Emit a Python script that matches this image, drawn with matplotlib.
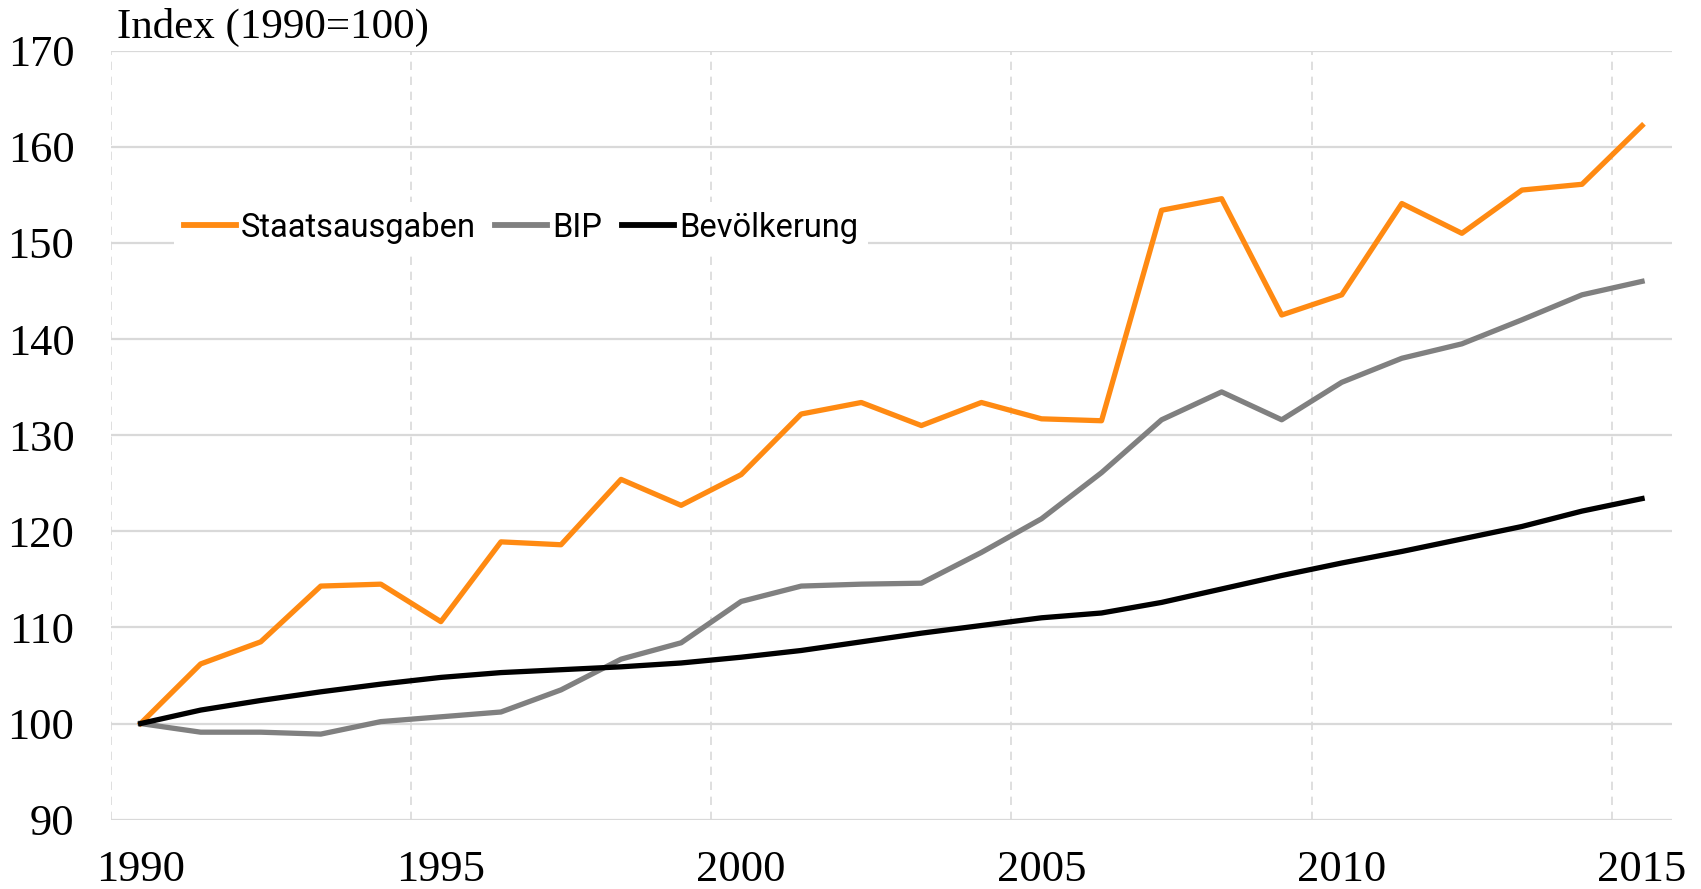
import numpy as np
import matplotlib.pyplot as plt

years = np.arange(1990, 2016)
staatsausgaben = [100.0, 106.2, 108.5, 114.3, 114.5, 110.6, 118.9, 118.6, 125.4, 122.7,
                  125.9, 132.2, 133.4, 131.0, 133.4, 131.7, 131.5, 153.4, 154.6, 142.5,
                  144.6, 154.1, 151.0, 155.5, 156.1, 162.2]
bip = [100.0, 99.1, 99.1, 98.9, 100.2, 100.7, 101.2, 103.5, 106.7, 108.4,
       112.7, 114.3, 114.5, 114.6, 117.8, 121.3, 126.1, 131.6, 134.5, 131.6,
       135.5, 138.0, 139.5, 142.0, 144.6, 146.0]
bevoelkerung = [100.0, 101.4, 102.4, 103.3, 104.1, 104.8, 105.3, 105.6, 105.9, 106.3,
                106.9, 107.6, 108.5, 109.4, 110.2, 111.0, 111.5, 112.6, 114.0, 115.4,
                116.7, 117.9, 119.2, 120.5, 122.1, 123.4]

serif = "Liberation Serif"

fig = plt.figure(figsize=(17.01, 8.89), dpi=100)
ax = fig.add_axes([0.065, 0.078, 0.918, 0.865])

# gridlines
for v in range(90, 171, 10):
    ax.axhline(v, color="#d9d9d9", lw=1.6, zorder=0)
for x in np.arange(1989.5, 2015, 5):
    ax.axvline(x, color="#d9d9d9", lw=1.2, ls=(0, (5, 4)), zorder=0)

ax.plot(years, staatsausgaben, color="#ff8a12", lw=3.8, label="Staatsausgaben")
ax.plot(years, bip, color="#808080", lw=3.8, label="BIP")
ax.plot(years, bevoelkerung, color="black", lw=3.8, label="Bevölkerung")

ax.set_xlim(1989.5, 2015.5)
ax.set_ylim(90, 170)
ax.set_xticks(np.arange(1990, 2016, 5))
ax.set_yticks(np.arange(90, 171, 10))
for s in ax.spines.values():
    s.set_visible(False)
ax.tick_params(length=0, labelsize=32)
ax.tick_params(axis="y", pad=26)
ax.tick_params(axis="x", pad=22)
for lab in ax.get_xticklabels() + ax.get_yticklabels():
    lab.set_fontfamily(serif)

ax.text(0.004, 1.005, "Index (1990=100)", transform=ax.transAxes, fontsize=31,
        fontfamily=serif, va="bottom", ha="left")

leg = ax.legend(loc="center left", bbox_to_anchor=(0.03, 0.77), ncol=3, frameon=True,
                framealpha=1, edgecolor="white", fancybox=False,
                prop={"family": ["Roboto", "DejaVu Sans"], "size": 23.5},
                handlelength=1.6, handletextpad=0.15, columnspacing=0.6, borderpad=0.3)
leg.get_frame().set_linewidth(0)
for h in leg.get_lines():
    h.set_linewidth(4.2)

fig.savefig("out.png", dpi=100)
